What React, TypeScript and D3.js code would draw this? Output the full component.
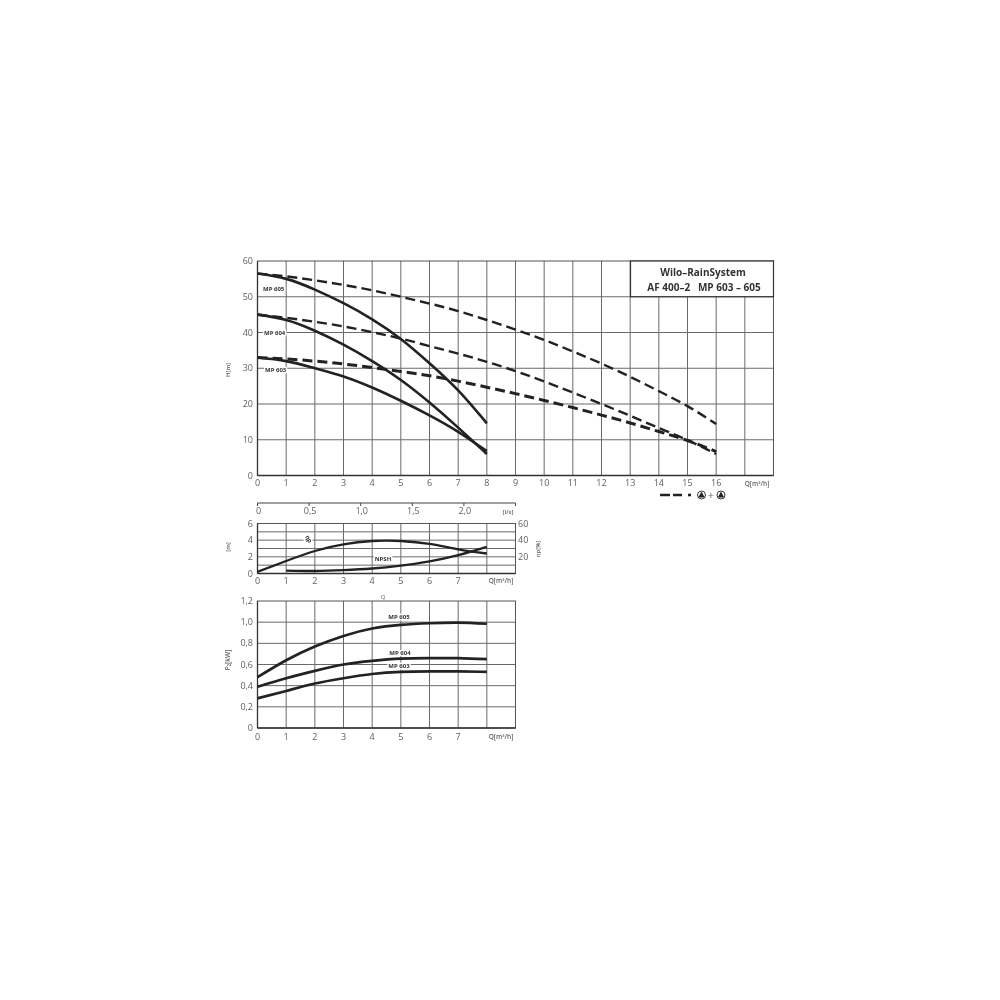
import React from "react";
import * as d3 from "d3";

const qTop = [0,1,2,3,4,5,6,7,8,9,10,11,12,13,14,15,16];
const qPump = [0,1,2,3,4,5,6,7,8];
const h605 = [56.5,55,52,48.2,43.7,38.2,31.4,23.8,14.6];
const h604 = [45,43.5,40.5,36.6,32,26.7,20.4,13.4,6];
const h603 = [33,32,30,27.7,24.6,20.9,16.8,12.2,6.8];
const d605 = [56.5,55.7,54.6,53.3,51.8,50,48.1,46,43.5,40.8,37.9,34.7,31.3,27.6,23.6,19.4,14.4];
const d604 = [45,44.1,43,41.7,40.1,38.3,36.2,34.1,31.8,29.2,26.3,23.2,20,16.7,13.3,9.9,6];
const d603 = [33,32.6,32,31.2,30.2,29.1,27.9,26.4,24.7,22.9,21,19,16.9,14.7,12.3,9.8,6.7];
const etaQ = [0,1,2,3,4,4.5,5,6,7,8];
const eta = [0.2,1.5,2.7,3.5,3.9,3.95,3.9,3.55,2.9,2.4];
const npshQ = [1,2,3,4,5,6,7,8];
const npsh = [0.35,0.3,0.4,0.6,0.95,1.45,2.2,3.2];
const p605 = [0.48,0.64,0.77,0.87,0.94,0.975,0.99,0.995,0.985];
const p604 = [0.39,0.47,0.54,0.6,0.635,0.655,0.66,0.66,0.65];
const p603 = [0.28,0.35,0.42,0.47,0.51,0.53,0.535,0.535,0.53];
const hTicks = [0,10,20,30,40,50,60];
const mTicks = [0,2,4,6];
const etaTicks = [20,40,60];
const pTicks = [0,0.2,0.4,0.6,0.8,1.0,1.2];
const lsTicks = [0,0.5,1.0,1.5,2.0];
const comma = (v: number) => v.toFixed(1).replace(".", ",");
const FONT = "'Open Sans', sans-serif";
const GRID = "#6a6a6a";
const TXT = "#606060";
const INK = "#222";

const xH = d3.scaleLinear().domain([0,18]).range([257.5,773.5]);
const yH = d3.scaleLinear().domain([0,60]).range([475.5,261]);
const xM = d3.scaleLinear().domain([0,9]).range([257.5,515.5]);
const yM = d3.scaleLinear().domain([0,6]).range([573.5,523.5]);
const xP = xM;
const yP = d3.scaleLinear().domain([0,1.2]).range([728,601]);
const xLs = d3.scaleLinear().domain([0,2.5]).range([257.5,515.5]);

function curve(xs: number[], ys: number[], x: any, y: any) {
  return d3.line<number>().x(d=>x(d)).y((_,i)=>y(ys[i])).curve(d3.curveNatural)(xs) as string;
}

function Grid({x,y,xs,ys}: any) {
  const [x0,x1]=x.range(); const [y0,y1]=y.range();
  return <g>
    {xs.map((v:number)=><line key={"v"+v} x1={x(v)} x2={x(v)} y1={y0} y2={y1} stroke={GRID} strokeWidth={1}/>)}
    {ys.map((v:number)=><line key={"h"+v} x1={x0} x2={x1} y1={y(v)} y2={y(v)} stroke={GRID} strokeWidth={1}/>)}
    <rect x={x0} y={y1} width={x1-x0} height={y0-y1} fill="none" stroke="#555" strokeWidth={1}/>
    <line x1={x0} x2={x1} y1={y0} y2={y0} stroke="#333" strokeWidth={1.5}/>
    <line x1={x0} x2={x0} y1={y0} y2={y1} stroke="#333" strokeWidth={1.3}/>
  </g>;
}

function T({x,y,children,size=9,anchor="middle",weight=400,fill=TXT,rotate,halo}: any) {
  return <text x={x} y={y} fontSize={size} textAnchor={anchor} fontWeight={weight} fill={fill} fontFamily={FONT}
    transform={rotate!==undefined?`rotate(${rotate} ${x} ${y})`:undefined}
    stroke={halo?"#fff":undefined} strokeWidth={halo?3:undefined} paintOrder={halo?"stroke":undefined}>{children}</text>;
}

function Pump({cx,cy}: any) {
  return <g>
    <circle cx={cx} cy={cy} r={4} fill="#fff" stroke={INK} strokeWidth={0.9}/>
    <path d={`M${cx-3.2},${cy+2.4}L${cx},${cy-3.6}L${cx+3.2},${cy+2.4}Z`} fill={INK}/>
  </g>;
}

export default function App() {
  const qSix = qTop.slice(0,8);
  return (
    <svg width={1000} height={1000} style={{position:"absolute",left:0,top:0,background:"#fff"}}>
      <defs><filter id="soft" x="-5%" y="-5%" width="110%" height="110%"><feGaussianBlur stdDeviation="0.35"/></filter></defs>
      <g filter="url(#soft)">
        {/* H chart */}
        <Grid x={xH} y={yH} xs={d3.range(1,18)} ys={hTicks.slice(1,-1)}/>
        {hTicks.map(v=><T key={v} x={253} y={yH(v)+3} anchor="end" size={9}>{v}</T>)}
        {qTop.map(v=><T key={v} x={xH(v)} y={486} size={9}>{v}</T>)}
        <T x={230} y={370} size={6} rotate={-90} weight={600}>H[m]</T>
        <T x={757} y={486} size={6.5} weight={600}>Q[m³/h]</T>
        <T x={263} y={291} size={6} anchor="start" weight={700} halo fill="#333">MP 605</T>
        <T x={264} y={335} size={6} anchor="start" weight={700} halo fill="#333">MP 604</T>
        <T x={265} y={372} size={6} anchor="start" weight={700} halo fill="#333">MP 603</T>
        {[h605,h604,h603].map((s,i)=><path key={i} d={curve(qPump,s,xH,yH)} fill="none" stroke={INK} strokeWidth={2.6}/>)}
        {[d605,d604,d603].map((s,i)=><path key={i} d={curve(qTop,s,xH,yH)} fill="none" stroke={INK} strokeWidth={i===2?3:2.4} strokeDasharray="10 5"/>)}
        <rect x={630.5} y={261} width={143} height={35.7} fill="#fff" stroke="#333" strokeWidth={1.2}/>
        <T x={703} y={276} size={10} weight={700} fill="#333">Wilo–RainSystem</T>
        <T x={704} y={291} size={10} weight={700} fill="#333">{"AF 400–2\u00A0\u00A0\u00A0MP 603 – 605"}</T>
        <line x1={660} x2={682} y1={495} y2={495} stroke={INK} strokeWidth={2.6} strokeDasharray="10 3"/>
        <line x1={688} x2={691} y1={495} y2={495} stroke={INK} strokeWidth={2.6}/>
        <Pump cx={701.5} cy={495}/>
        <T x={711} y={499} size={11}>+</T>
        <Pump cx={721} cy={495}/>

        {/* l/s axis */}
        <line x1={xLs(0)} x2={xLs(2.5)} y1={503} y2={503} stroke="#444" strokeWidth={1}/>
        {lsTicks.map(v=><line key={v} x1={xLs(v)} x2={xLs(v)} y1={503} y2={506} stroke="#444"/>)}
        <line x1={xLs(2.5)} x2={xLs(2.5)} y1={503} y2={506} stroke="#444"/>
        {lsTicks.map(v=><T key={v} x={xLs(v)+1} y={514} size={9}>{v===0?"0":comma(v)}</T>)}
        <T x={508} y={514} size={6} weight={600}>[l/s]</T>

        {/* eta / NPSH chart */}
        <Grid x={xM} y={yM} xs={d3.range(1,9)} ys={[1,2,3,4,5]}/>
        {mTicks.map(v=><T key={v} x={253} y={yM(v)+3} anchor="end" size={9}>{v}</T>)}
        {etaTicks.map(v=><T key={v} x={518} y={yM(v/10)+3} anchor="start" size={9}>{v}</T>)}
        {qSix.map(v=><T key={v} x={xM(v)} y={584} size={9}>{v}</T>)}
        <T x={230} y={547} size={6} rotate={-90} weight={600}>[m]</T>
        <T x={540} y={549} size={6} rotate={-90} weight={600}>ηp[%]</T>
        <T x={501} y={583} size={6.5} weight={600}>Q[m³/h]</T>
        <T x={307} y={540} size={6} rotate={60} weight={700} halo fill="#333">ηp</T>
        <T x={383} y={561} size={6} weight={700} halo fill="#333">NPSH</T>
        <path d={curve(etaQ,eta,xM,yM)} fill="none" stroke={INK} strokeWidth={2.3}/>
        <path d={curve(npshQ,npsh,xM,yM)} fill="none" stroke={INK} strokeWidth={2.3}/>
        <T x={383} y={599} size={6}>Q</T>

        {/* P2 chart */}
        <Grid x={xP} y={yP} xs={d3.range(1,9)} ys={pTicks.slice(1,-1)}/>
        {pTicks.map(v=><T key={v} x={253} y={yP(v)+3} anchor="end" size={9}>{v===0?"0":comma(v)}</T>)}
        {qSix.map(v=><T key={v} x={xP(v)} y={740} size={9}>{v}</T>)}
        <T x={230} y={660} size={6.5} rotate={-90} weight={600}>P₂[kW]</T>
        <T x={501} y={739} size={6.5} weight={600}>Q[m³/h]</T>
        <T x={399} y={619} size={6} weight={700} halo fill="#333">MP 605</T>
        <T x={400} y={655} size={6} weight={700} halo fill="#333">MP 604</T>
        <T x={399} y={668} size={6} weight={700} halo fill="#333">MP 603</T>
        {[p605,p604,p603].map((s,i)=><path key={i} d={curve(qPump,s,xP,yP)} fill="none" stroke={INK} strokeWidth={2.7}/>)}
      </g>
    </svg>
  );
}
